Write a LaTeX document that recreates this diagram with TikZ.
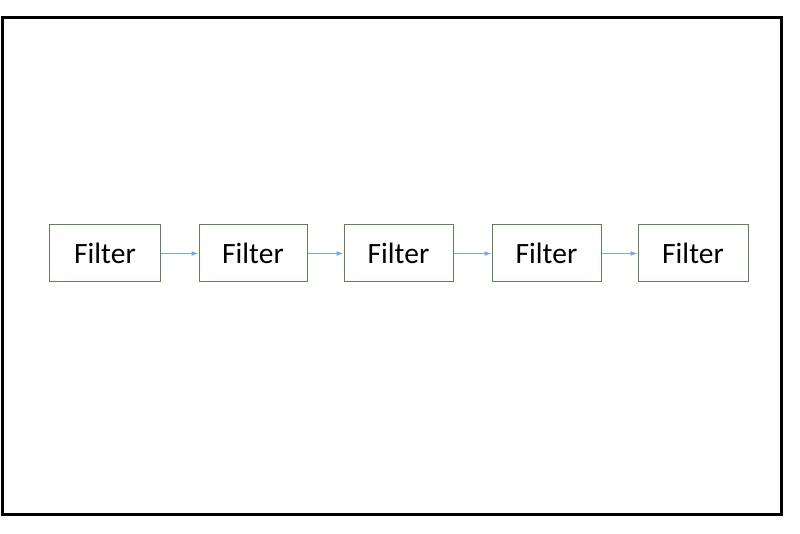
\documentclass[tikz,border=0pt]{standalone}
\usepackage{fontspec}
\setmainfont{Carlito}
\usetikzlibrary{arrows.meta}
\definecolor{boxgreen}{HTML}{5F8250}
\definecolor{arrowblue}{HTML}{78AACF}
\begin{document}
\begin{tikzpicture}[x=1pt,y=1pt,
  filterbox/.style={draw=boxgreen, line width=1pt, minimum width=111pt, minimum height=57pt, inner sep=0pt, font=\fontsize{29.5}{33}\selectfont},
  link/.style={draw=arrowblue, line width=1pt, -{Latex[length=7pt,width=5pt]}}]
\useasboundingbox (0,0) rectangle (800,533);
\fill[white] (0,0) rectangle (800,533);
\draw[line width=3pt] (2.5,533-17.5) rectangle (781.5,533-514.5);
\node[filterbox] (f1) at (105,533-253.5) {Filter};
\node[filterbox, minimum width=108pt] (f2) at (253,533-253.5) {Filter};
\node[filterbox, minimum width=109pt] (f3) at (398.5,533-253.5) {Filter};
\node[filterbox, minimum width=109pt] (f4) at (546.5,533-253.5) {Filter};
\node[filterbox, minimum width=110pt] (f5) at (693,533-253.5) {Filter};
\draw[link] (f1) -- (f2);
\draw[link] (f2) -- (f3);
\draw[link] (f3) -- (f4);
\draw[link] (f4) -- (f5);
\end{tikzpicture}
\end{document}
